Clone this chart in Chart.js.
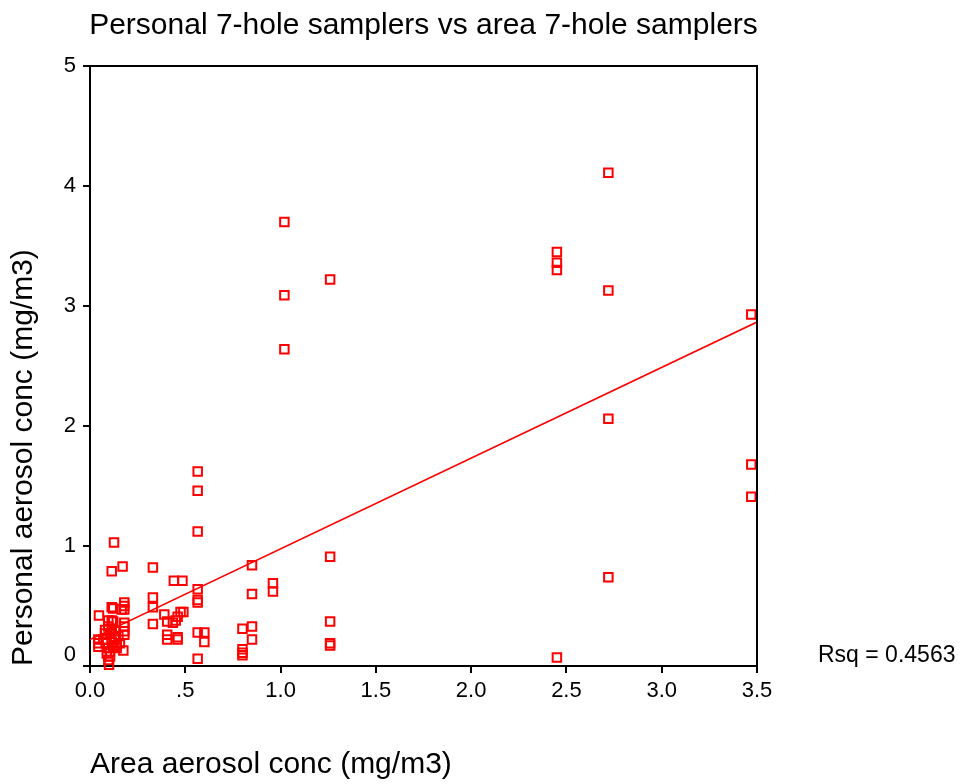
<!DOCTYPE html>
<html>
<head>
<meta charset="utf-8">
<title>Personal vs area 7-hole samplers</title>
<script src="https://cdn.jsdelivr.net/npm/chart.js@4.4.1/dist/chart.umd.min.js"></script>
<style>
  html, body { margin: 0; padding: 0; background: #fff; }
  #wrap { width: 964px; height: 784px; }
</style>
</head>
<body>
<div id="wrap"><canvas id="scatterChart" width="964" height="784"></canvas></div>
<script>
// Texts
const chartTitle = 'Personal 7-hole samplers vs area 7-hole samplers';
const xAxisTitle = 'Area aerosol conc (mg/m3)';
const yAxisTitle = 'Personal aerosol conc (mg/m3)';
const rsqLabel = 'Rsq = 0.4563';

// Axis ticks
const xTicks = [0, 0.5, 1, 1.5, 2, 2.5, 3, 3.5];
const xTickLabels = ['0.0', '.5', '1.0', '1.5', '2.0', '2.5', '3.0', '3.5'];
const yTicks = [0, 1, 2, 3, 4, 5];

// Area sampler (x) and personal sampler (y)
const areaConc = [
    2.72, 2.72, 2.72, 2.72,
    2.45, 2.45, 2.45, 2.45,
    3.47, 3.47, 3.47,
    1.02, 1.02, 1.02,
    1.26, 1.26, 1.26, 1.26, 1.26,
    0.96, 0.96,
    0.85, 0.85, 0.85, 0.85,
    0.80, 0.80, 0.80, 0.80,
    0.565, 0.565, 0.565, 0.565, 0.565, 0.565, 0.565, 0.565,
    0.60, 0.60,
    0.33, 0.33, 0.33, 0.33,
    0.44, 0.485,
    0.39, 0.405, 0.435, 0.46, 0.475, 0.49, 0.45,
    0.405, 0.405, 0.46, 0.46,
    0.126, 0.114, 0.171, 0.047, 0.18, 0.18, 0.18, 0.114, 0.122, 0.166,
    0.096, 0.114, 0.122, 0.18, 0.18, 0.18, 0.18, 0.079, 0.079, 0.105,
    0.131, 0.149, 0.044, 0.044, 0.044, 0.07, 0.082, 0.096, 0.114, 0.122,
    0.14, 0.157, 0.175, 0.088, 0.105, 0.096, 0.10, 0.105, 0.096, 0.114,
    0.131, 0.131, 0.14
];
const personalConc = [
    4.11, 3.13, 2.06, 0.74,
    3.45, 3.36, 3.30, 0.07,
    2.93, 1.68, 1.41,
    3.70, 3.09, 2.64,
    3.22, 0.91, 0.37, 0.19, 0.17,
    0.69, 0.62,
    0.84, 0.60, 0.33, 0.22,
    0.31, 0.14, 0.11, 0.09,
    1.62, 1.46, 1.12, 0.64, 0.55, 0.53, 0.28, 0.06,
    0.28, 0.20,
    0.82, 0.57, 0.49, 0.35,
    0.71, 0.71,
    0.43, 0.37, 0.36, 0.41, 0.45, 0.45, 0.38,
    0.26, 0.22, 0.24, 0.22,
    1.03, 0.79, 0.83, 0.42, 0.53, 0.50, 0.47, 0.49, 0.48, 0.47,
    0.38, 0.38, 0.37, 0.36, 0.33, 0.29, 0.26, 0.30, 0.27, 0.27,
    0.24, 0.25, 0.22, 0.19, 0.16, 0.22, 0.19, 0.15, 0.20, 0.16,
    0.175, 0.19, 0.13, 0.105, 0.08, 0.05, 0.01, 0.12, 0.33, 0.31,
    0.29, 0.22, 0.15
];

// Fit line
const fitIntercept = 0.22;
const fitSlope = 0.756;

const fontFamily = '"Liberation Sans", Arial, Helvetica, sans-serif';
const red = '#ff0000';

const points = areaConc.map((x, i) => ({ x: x, y: personalConc[i] }));
const xMin = xTicks[0], xMax = xTicks[xTicks.length - 1];
const fitLine = [
    { x: xMin, y: fitIntercept + fitSlope * xMin },
    { x: xMax, y: fitIntercept + fitSlope * xMax }
];

// frame, title, Rsq text and the lifted "0" label (SPSS style)
const extrasPlugin = {
    id: 'extras',
    afterDraw(chart) {
        const { ctx, chartArea } = chart;
        const yScale = chart.scales.y;
        ctx.save();
        ctx.strokeStyle = '#000';
        ctx.lineWidth = 2;
        ctx.beginPath();
        ctx.moveTo(chartArea.left - 7, chartArea.top);
        ctx.lineTo(chartArea.right, chartArea.top);
        ctx.lineTo(chartArea.right, chartArea.bottom + 7);
        ctx.stroke();

        ctx.fillStyle = '#000';
        ctx.font = '30px ' + fontFamily;
        ctx.textAlign = 'center';
        ctx.textBaseline = 'alphabetic';
        ctx.fillText(chartTitle, (chartArea.left + chartArea.right) / 2, 34);

        ctx.font = '22px ' + fontFamily;
        ctx.textAlign = 'right';
        ctx.textBaseline = 'middle';
        ctx.fillText('0', chartArea.left - 14, yScale.getPixelForValue(0) - 11);

        ctx.font = '23px ' + fontFamily;
        ctx.textAlign = 'left';
        ctx.textBaseline = 'alphabetic';
        ctx.fillText(rsqLabel, chartArea.right + 61, chartArea.bottom - 4);
        ctx.restore();
    }
};

const ctx = document.getElementById('scatterChart').getContext('2d');
new Chart(ctx, {
    type: 'scatter',
    data: {
        datasets: [
            {
                label: 'Fit',
                type: 'line',
                data: fitLine,
                borderColor: red,
                borderWidth: 1.6,
                pointRadius: 0,
                fill: false
            },
            {
                label: 'Personal aerosol conc',
                data: points,
                pointStyle: 'rect',
                pointRadius: 6,
                pointBorderWidth: 2,
                pointBorderColor: red,
                pointBackgroundColor: 'rgba(255,255,255,0)',
                clip: false
            }
        ]
    },
    options: {
        responsive: false,
        animation: false,
        layout: { padding: { top: 66, right: 207, left: 0, bottom: 0 } },
        plugins: {
            legend: { display: false },
            tooltip: { enabled: false }
        },
        scales: {
            x: {
                type: 'linear',
                min: xMin,
                max: xMax,
                afterFit: s => { s.height = 118; },
                ticks: {
                    stepSize: 0.5,
                    color: '#000',
                    padding: 5,
                    font: { family: fontFamily, size: 22 },
                    callback: (v, i) => xTickLabels[i]
                },
                grid: {
                    drawOnChartArea: false,
                    drawTicks: true,
                    tickLength: 7,
                    color: '#000',
                    lineWidth: 2
                },
                border: { color: '#000', width: 2 },
                title: {
                    display: true,
                    text: xAxisTitle,
                    align: 'start',
                    color: '#000',
                    font: { family: fontFamily, size: 30 },
                    padding: { top: 0, bottom: 1 }
                }
            },
            y: {
                type: 'linear',
                min: yTicks[0],
                max: yTicks[yTicks.length - 1],
                afterFit: s => { s.width = 90; },
                ticks: {
                    stepSize: 1,
                    color: '#000',
                    padding: 7,
                    font: { family: fontFamily, size: 22 },
                    callback: v => (v === 0 ? '' : String(v))
                },
                grid: {
                    drawOnChartArea: false,
                    drawTicks: true,
                    tickLength: 7,
                    color: '#000',
                    lineWidth: 2
                },
                border: { color: '#000', width: 2 },
                title: {
                    display: true,
                    text: yAxisTitle,
                    align: 'start',
                    color: '#000',
                    font: { family: fontFamily, size: 30 },
                    padding: { top: 6, bottom: 0 }
                }
            }
        }
    },
    plugins: [extrasPlugin]
});
</script>
</body>
</html>
